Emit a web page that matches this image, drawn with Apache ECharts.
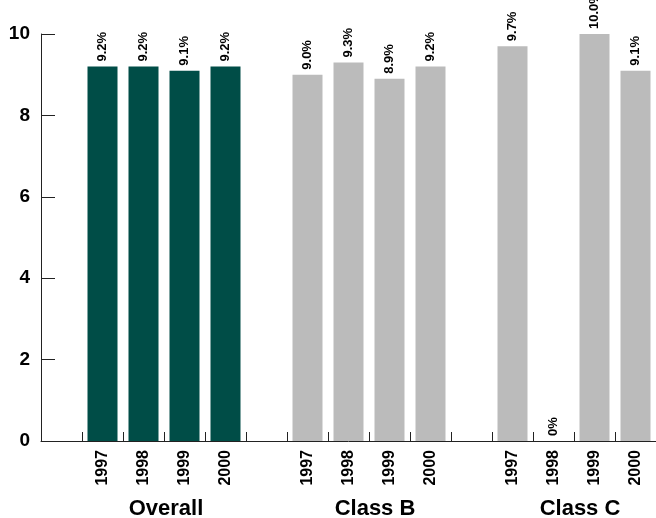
<!DOCTYPE html>
<html>
<head>
<meta charset="utf-8">
<script src="https://cdn.jsdelivr.net/npm/echarts@6/dist/echarts.min.js"></script>
<style>html,body{margin:0;padding:0;background:#fff;}#c{width:656px;height:518px;}</style>
</head>
<body>
<div id="c"></div>
<script>
const years = ['1997', '1998', '1999', '2000'];
const groups = ['Overall', 'Class B', 'Class C'];
const overall = [9.2, 9.2, 9.1, 9.2];
const classB = [9.0, 9.3, 8.9, 9.2];
const classC = [9.7, 0, 10.0, 9.1];
const yTicks = [0, 2, 4, 6, 8, 10];

const GREEN = '#004d47';
const GRAY = '#bbbbbb';
const FONT = 'Liberation Sans, Arial, sans-serif';

// slot layout: blank, 4 years, blank, 4 years, blank, 4 years
const categories = [];
const data = [];
const groupSlots = [];
const seriesVals = [overall, classB, classC];
const colors = [GREEN, GRAY, GRAY];
seriesVals.forEach((vals, g) => {
  categories.push('');
  data.push(null);
  const start = categories.length;
  years.forEach((y, i) => {
    categories.push(y);
    data.push({
      value: vals[i],
      itemStyle: { color: colors[g] }
    });
  });
  groupSlots.push([start, categories.length - 1]);
});

const chart = echarts.init(document.getElementById('c'), null, { renderer: 'canvas' });
chart.setOption({
  animation: false,
  backgroundColor: '#fff',
  grid: { left: 41, right: 0, top: 34, bottom: 77, containLabel: false },
  xAxis: {
    type: 'category',
    data: categories,
    axisLine: { show: true, lineStyle: { color: '#222', width: 1 } },
    axisTick: { show: true, inside: true, length: 9, lineStyle: { color: '#222' } },
    axisLabel: {
      rotate: 90, margin: 9, color: '#000', fontFamily: FONT,
      fontWeight: 'bold', fontSize: 16, interval: 0
    }
  },
  yAxis: {
    type: 'value', min: yTicks[0], max: yTicks[yTicks.length - 1], interval: 2,
    axisLine: { show: true, lineStyle: { color: '#222', width: 1 } },
    axisTick: { show: true, inside: true, length: 14, lineStyle: { color: '#222' } },
    splitLine: { show: false },
    axisLabel: { margin: 11, color: '#000', fontFamily: FONT, fontWeight: 'bold', fontSize: 19 }
  },
  series: [{
    type: 'bar',
    data: data,
    barWidth: 30,
    label: {
      show: true, position: 'top', rotate: 90, distance: 5,
      align: 'left', verticalAlign: 'middle',
      color: '#000', fontFamily: FONT, fontWeight: 'bold', fontSize: 13,
      formatter: p => (p.value === 0 ? '0%' : p.value.toFixed(1) + '%')
    }
  }]
});

const graphics = groups.map((name, g) => {
  const a = chart.convertToPixel({ xAxisIndex: 0 }, groupSlots[g][0]);
  const b = chart.convertToPixel({ xAxisIndex: 0 }, groupSlots[g][1]);
  return {
    type: 'text',
    x: (a + b) / 2 + (g === 0 ? 2 : 6),
    y: 509,
    style: {
      text: name, fill: '#000', font: 'bold 22px ' + FONT,
      textAlign: 'center', textVerticalAlign: 'middle'
    }
  };
});
chart.setOption({ graphic: graphics });
</script>
</body>
</html>
